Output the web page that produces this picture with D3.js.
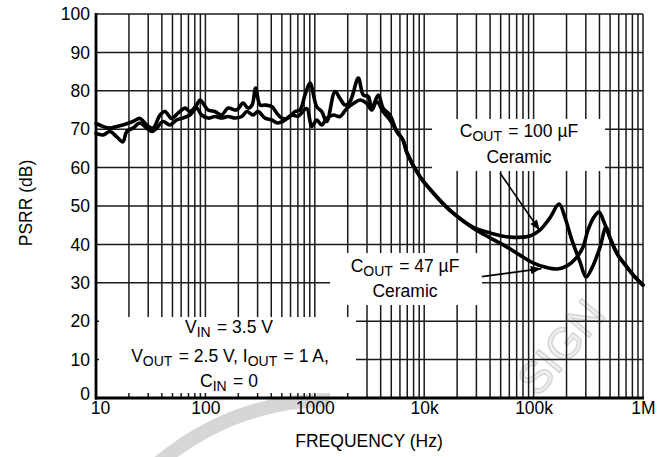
<!DOCTYPE html>
<html>
<head>
<meta charset="utf-8">
<script src="https://cdn.jsdelivr.net/npm/d3@7"></script>
<style>
  html, body { margin: 0; padding: 0; background: #fff; }
  svg { display: block; font-family: "Liberation Sans", Arial, Helvetica, sans-serif; }
</style>
</head>
<body>
<svg id="chart" width="670" height="457"></svg>
<script>
// PSRR vs frequency, two output capacitors
const freqA = [10, 11.6, 13.4, 15.5, 17.6, 21.8, 25.2, 29.1, 33.2, 38.5, 42.7, 49.2, 56.2, 65.2, 72.3, 83.2, 89.2,
  106, 122, 141, 161, 193, 221, 245, 267, 288, 316, 351, 404, 449, 498, 569, 659, 732, 813, 904,
  1040, 1156, 1284, 1530, 1700, 1888, 2098, 2500, 2775, 3084, 3313, 3805, 4227, 4866, 5607, 6397, 6966, 9160,
  13100, 18300, 27900, 39900, 60800, 92700, 114000, 141000, 171000, 194000, 224000, 266000, 301000, 342000,
  405000, 459000, 499000, 590000, 713000, 845000, 1000000];
const psrrA = [71.5, 70.7, 70.3, 70.7, 71.1, 72.0, 72.8, 71.1, 70.3, 73.7, 74.6, 72.8, 74.2, 75.5, 74.6, 76.3, 77.6,
  75.0, 74.6, 73.7, 75.5, 75.0, 76.8, 75.5, 76.3, 80.7, 76.3, 76.3, 75.9, 74.2, 72.9, 72.9, 74.6, 75.0, 78.9, 82.0,
  75.9, 74.6, 72.0, 79.8, 78.0, 76.3, 77.2, 83.3, 78.9, 78.5, 75.4, 78.9, 75.4, 73.7, 69.4, 67.2, 63.8, 57.6,
  52.3, 48.2, 44.5, 43.0, 41.9, 42.2, 43.7, 46.9, 50.5, 46.9, 41.1, 35.4, 31.5, 33.9,
  39.3, 44.5, 41.7, 37.2, 34.1, 31.5, 29.4];

const freqB = [10, 11.6, 13.4, 15.5, 17.6, 19.1, 21.8, 25.2, 28.0, 32.3, 35.9, 41.0, 47.4, 54.6, 62.3, 72.3, 83.2, 92.4,
  106, 122, 141, 161, 187, 215, 239, 272, 303, 351, 404, 461, 535, 615, 702, 843, 937,
  1040, 1156, 1284, 1476, 1700, 1960, 2250, 2590, 2980, 3313, 3680, 4227, 4866, 5607, 6397, 6966, 9160,
  13100, 18300, 27900, 39900, 57100, 75100, 98900, 127000, 164000, 202000, 249000, 283000, 314000, 356000,
  396000, 440000, 499000, 590000, 713000, 845000, 1000000];
const psrrB = [68.9, 68.5, 69.4, 68.0, 66.7, 69.4, 70.3, 71.6, 70.7, 69.4, 70.3, 72.0, 71.1, 72.4, 72.9, 73.7, 75.5, 73.7,
  72.9, 73.3, 72.9, 73.3, 72.9, 73.3, 74.6, 73.7, 74.6, 72.9, 72.4, 71.6, 72.4, 73.7, 73.4, 75.4, 70.7,
  72.4, 71.1, 72.8, 73.7, 73.3, 75.4, 76.7, 77.6, 76.7, 75.0, 77.2, 74.5, 72.4, 69.5, 67.2, 63.8, 57.6,
  52.3, 48.2, 44.3, 41.7, 39.3, 37.2, 35.2, 34.1, 33.6, 34.4, 36.7, 39.3, 43.7, 47.1,
  48.4, 45.8, 41.7, 37.2, 34.1, 31.5, 29.4];

const xTicks = [10, 100, 1000, 1e4, 1e5, 1e6];
const xTickLabels = ["10", "100", "1000", "10k", "100k", "1M"];
const yTicks = [0, 10, 20, 30, 40, 50, 60, 70, 80, 90, 100];

const margin = { top: 14, right: 27, bottom: 59, left: 96 };
const W = 670, H = 457;
const FS = 17.5;

const svg = d3.select('#chart');

// watermark, mostly hidden behind the plot
const wm = svg.append('g').attr('fill', 'none').attr('stroke', '#d6d6d6');
wm.append('path').attr('d', 'M150,470 Q230,400 330,400').attr('stroke-width', 14);
wm.append('text')
  .attr('transform', 'translate(538,398) rotate(-50)')
  .attr('font-size', 44).attr('stroke-width', 1.5).attr('fill', '#f2f2f2')
  .text('SIGN');

const x = d3.scaleLog().domain([10, 1e6]).range([margin.left, W - margin.right]);
const y = d3.scaleLinear().domain([0, 100]).range([H - margin.bottom, margin.top]);

// grid: every 1..9 per decade
const gridX = [];
for (let d = 10; d < 1e6; d *= 10) for (let m = 1; m < 10; m++) gridX.push(d * m);
gridX.push(1e6);

const grid = svg.append('g').attr('stroke', '#1a1a1a').attr('stroke-width', 1.5);
grid.selectAll('line.v').data(gridX).join('line')
  .attr('class', 'v')
  .attr('x1', d => x(d)).attr('x2', d => x(d))
  .attr('y1', y(0)).attr('y2', y(100));
grid.selectAll('line.h').data(yTicks).join('line')
  .attr('class', 'h')
  .attr('x1', x(10)).attr('x2', x(1e6))
  .attr('y1', d => y(d)).attr('y2', d => y(d));

// white label boxes cover the grid
const boxes = [
  [99, 317, 257, 76],
  [432, 119, 173, 52],
  [330, 253, 152, 52]
];
svg.append('g').selectAll('rect').data(boxes).join('rect')
  .attr('x', d => d[0]).attr('y', d => d[1]).attr('width', d => d[2]).attr('height', d => d[3])
  .attr('fill', '#fff');

// heavy left and bottom axis lines
svg.append('line').attr('x1', x(10)).attr('x2', x(10)).attr('y1', y(100) - 1).attr('y2', y(0) + 1.5)
  .attr('stroke', '#000').attr('stroke-width', 2.8);
svg.append('line').attr('x1', x(10) - 1).attr('x2', x(1e6) + 1).attr('y1', y(0)).attr('y2', y(0))
  .attr('stroke', '#000').attr('stroke-width', 2.8);

const line = d3.line()
  .x(d => x(d[0]))
  .y(d => y(d[1]))
  .curve(d3.curveCatmullRom.alpha(0.5));

[[freqA, psrrA], [freqB, psrrB]].forEach(([f, p]) => {
  svg.append('path')
    .datum(f.map((v, i) => [v, p[i]]))
    .attr('d', line)
    .attr('fill', 'none')
    .attr('stroke', '#000')
    .attr('stroke-width', 3.6)
    .attr('stroke-linejoin', 'round')
    .attr('stroke-linecap', 'round');
});

// axes labels
const xAxis = svg.append('g')
  .attr('transform', `translate(0,${y(0)})`)
  .call(d3.axisBottom(x).tickValues(xTicks).tickFormat((d, i) => xTickLabels[i]).tickSize(0).tickPadding(4));
xAxis.select('.domain').remove();
xAxis.selectAll('text').attr('font-size', FS).attr('fill', '#000').attr('font-family', null)
  .attr('dx', d => d === 10 ? 4 : 0);

const yAxis = svg.append('g')
  .attr('transform', `translate(${x(10) - 6},0)`)
  .call(d3.axisLeft(y).tickValues(yTicks).tickSize(0).tickPadding(0));
yAxis.select('.domain').remove();
yAxis.selectAll('text').attr('font-size', FS).attr('fill', '#000').attr('font-family', null)
  .attr('dy', d => d === 0 ? '0.1em' : '0.32em');

svg.append('text')
  .attr('x', 369).attr('y', 447)
  .attr('text-anchor', 'middle').attr('font-size', FS)
  .text('FREQUENCY (Hz)');
svg.append('text')
  .attr('transform', 'translate(32,203) rotate(-90)')
  .attr('text-anchor', 'middle').attr('font-size', FS)
  .text('PSRR (dB)');

// annotation text with subscripts
function label(xc, yb, parts) {
  const t = svg.append('text').attr('x', xc).attr('y', yb)
    .attr('text-anchor', 'middle').attr('font-size', FS);
  parts.forEach(p => {
    if (typeof p === 'string') t.append('tspan').text(p);
    else {
      t.append('tspan').attr('dy', 4).attr('font-size', 14).text(p.sub);
      t.append('tspan').attr('dy', -4).text('\u200a');
    }
  });
}
label(229, 333, ['V', { sub: 'IN' }, ' = 3.5 V']);
label(230, 362, ['V', { sub: 'OUT' }, ' = 2.5 V, I', { sub: 'OUT' }, ' = 1 A,']);
label(229, 387, ['C', { sub: 'IN' }, ' = 0']);
label(519, 137, ['C', { sub: 'OUT' }, ' = 100 \u00b5F']);
label(519, 163, ['Ceramic']);
label(405, 272, ['C', { sub: 'OUT' }, ' = 47 \u00b5F']);
label(405, 297, ['Ceramic']);

// arrows (data coords: tail -> head)
svg.append('defs').append('marker')
  .attr('id', 'arr').attr('viewBox', '0 -5 12 10')
  .attr('refX', 12).attr('refY', 0)
  .attr('markerUnits', 'userSpaceOnUse')
  .attr('markerWidth', 13).attr('markerHeight', 9)
  .attr('orient', 'auto')
  .append('path').attr('d', 'M0,-4.5L12,0L0,4.5Z').attr('fill', '#000');

const arrows = [
  [[49300, 58.6], [114000, 43.6]],
  [[33600, 31.6], [118000, 33.7]]
];
svg.append('g').selectAll('line').data(arrows).join('line')
  .attr('x1', d => x(d[0][0])).attr('y1', d => y(d[0][1]))
  .attr('x2', d => x(d[1][0])).attr('y2', d => y(d[1][1]))
  .attr('stroke', '#000').attr('stroke-width', 1.6)
  .attr('marker-end', 'url(#arr)');
</script>
</body>
</html>
